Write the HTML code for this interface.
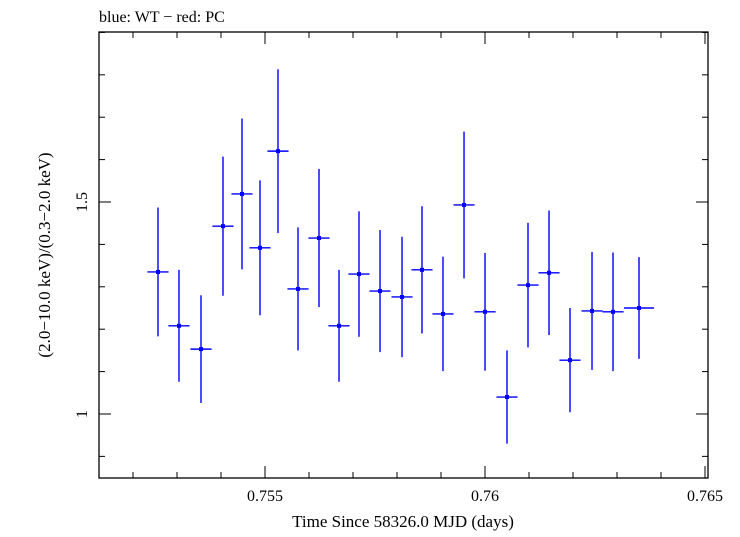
<!DOCTYPE html>
<html><head><meta charset="utf-8"><style>
body{margin:0;background:#fff;}
svg text{font-family:"Liberation Serif",serif;fill:#000;}
</style></head><body>
<svg id="chart" width="740" height="532" xmlns="http://www.w3.org/2000/svg">
<text x="99" y="22" font-size="16">blue: WT − red: PC</text>
<text x="403" y="527" font-size="17" text-anchor="middle">Time Since 58326.0 MJD (days)</text>
<text transform="translate(50,255) rotate(-90)" font-size="17" text-anchor="middle">(2.0−10.0 keV)/(0.3−2.0 keV)</text>
<g id="axes"></g>
<g id="marks"></g>
</svg>
<script>
const xVals=[0.752568,0.753045,0.753545,0.754045,0.754477,0.754886,0.755295,0.755750,0.756227,0.756682,0.757136,0.757614,0.758114,0.758568,0.759045,0.759523,0.760000,0.760500,0.760977,0.761455,0.761932,0.762432,0.762909,0.763500];
const xErr=[0.00024,0.00024,0.00024,0.00024,0.00024,0.00024,0.00024,0.00024,0.00024,0.00024,0.00024,0.00024,0.00024,0.00024,0.00024,0.00024,0.00024,0.00024,0.00024,0.00024,0.00024,0.00024,0.00024,0.00034];
const yVals=[1.335,1.208,1.153,1.443,1.519,1.392,1.620,1.295,1.415,1.208,1.330,1.290,1.276,1.340,1.236,1.493,1.241,1.040,1.304,1.333,1.127,1.243,1.241,1.250];
const yErr=[0.152,0.132,0.127,0.164,0.178,0.159,0.193,0.145,0.163,0.132,0.148,0.144,0.142,0.150,0.135,0.173,0.139,0.110,0.147,0.147,0.123,0.139,0.140,0.120];
const xTickLabels=["0.755","0.76","0.765"];
const yTickLabels=["1","1.5"];
const L=99,R=708,T=32,B=478;
const xMin=0.751227,xMax=0.765068,yMin=0.849,yMax=1.901;
const sx=v=>L+(v-xMin)/(xMax-xMin)*(R-L);
const sy=v=>B-(v-yMin)/(yMax-yMin)*(B-T);
const NS="http://www.w3.org/2000/svg";
function mk(tag,attrs,parent){const e=document.createElementNS(NS,tag);for(const k in attrs)e.setAttribute(k,attrs[k]);parent.appendChild(e);return e;}
const ax=document.getElementById('axes');
const frame=mk('rect',{x:L,y:T,width:R-L,height:B-T,fill:'none',stroke:'#000','stroke-width':1.3},ax);


for(let i=752;i<=765;i++){const v=i/1000;const x=sx(v);const major=(i%5===0);const len=major?12:6;
 const t1=mk('line',{x1:x,x2:x,y1:B,y2:B-len,stroke:'#000','stroke-width':1},ax);
 
 
 mk('line',{x1:x,x2:x,y1:T,y2:T+len,stroke:'#000','stroke-width':1},ax);}
xTickLabels.forEach(s=>{const t=mk('text',{x:sx(parseFloat(s)),y:B+23,'font-size':16,'text-anchor':'middle'},ax);t.textContent=s;
 
 });
for(let i=9;i<=19;i++){const v=i/10;const y=sy(v);const major=(i%5===0);const len=major?12:6;
 const t1=mk('line',{x1:L,x2:L+len,y1:y,y2:y,stroke:'#000','stroke-width':1},ax);
 
 
 mk('line',{x1:R,x2:R-len,y1:y,y2:y,stroke:'#000','stroke-width':1},ax);}
yTickLabels.forEach(s=>{const y=sy(parseFloat(s));const t=mk('text',{transform:`translate(${L-12},${y}) rotate(-90)`,'font-size':16,'text-anchor':'middle'},ax);t.textContent=s;
 
 });
const mg=document.getElementById('marks');
xVals.forEach((xv,i)=>{const g=mk('g',{},mg);
 
 
 const x=sx(xv),y=sy(yVals[i]);
 mk('line',{x1:x,x2:x,y1:sy(yVals[i]+yErr[i]),y2:sy(yVals[i]-yErr[i]),stroke:'#0000ff','stroke-width':1.4},g);
 mk('line',{x1:sx(xv-xErr[i]),x2:sx(xv+xErr[i]),y1:y,y2:y,stroke:'#0000ff','stroke-width':1.4},g);
 mk('rect',{x:x-2,y:y-2,width:4,height:4,fill:'#0000ff'},g);});
</script>
</body></html>
